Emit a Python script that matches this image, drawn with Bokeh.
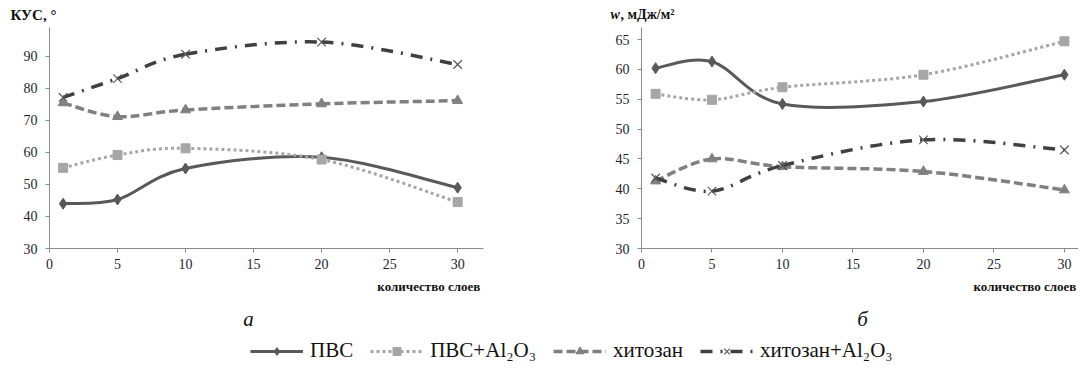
import numpy as np
from bokeh.plotting import figure
from bokeh.models import Range1d, FixedTicker, Label, Legend, LegendItem, ColumnDataSource
from bokeh.layouts import column, row
from bokeh.embed import file_html
from bokeh.resources import INLINE

# ---- data ----
layers = [1, 5, 10, 20, 30]
kus_pvs = [44.0, 45.3, 55.0, 58.5, 49.0]
kus_pvs_al = [55.2, 59.2, 61.3, 57.8, 44.5]
kus_chit = [75.5, 71.2, 73.3, 75.2, 76.2]
kus_chit_al = [77.2, 83.1, 90.7, 94.5, 87.5]
w_pvs = [60.2, 61.3, 54.2, 54.6, 59.1]
w_pvs_al = [55.9, 54.9, 57.0, 59.1, 64.7]
w_chit = [41.3, 45.0, 43.7, 42.9, 39.8]
w_chit_al = [41.8, 39.6, 43.9, 48.2, 46.5]
series_names = ["ПВС", "ПВС+Al₂O₃", "хитозан", "хитозан+Al₂O₃"]
x_ticks = [0, 5, 10, 15, 20, 25, 30]
kus_ticks = [30, 40, 50, 60, 70, 80, 90]
w_ticks = [30, 35, 40, 45, 50, 55, 60, 65]

FONT = "Liberation Serif"
styles = [
    dict(color="#595959", dash="solid", width=3, marker="diamond", msize=11, mcolor="#595959"),
    dict(color="#a6a6a6", dash="3 3", width=3, marker="square", msize=9, mcolor="#a6a6a6"),
    dict(color="#808080", dash="9 4", width=3.5, marker="triangle", msize=10, mcolor="#808080"),
    dict(color="#404040", dash="12 8 2 8", width=3.5, marker="x", msize=12, mcolor="#595959"),
]


def smooth_source(xs, ys):
    n = len(xs)
    d = dict(x0=[], y0=[], x1=[], y1=[], cx0=[], cy0=[], cx1=[], cy1=[])
    for i in range(n - 1):
        a = i - 1 if i > 0 else i
        b = i + 2 if i + 2 < n else i + 1
        d["x0"].append(xs[i]); d["y0"].append(ys[i])
        d["x1"].append(xs[i + 1]); d["y1"].append(ys[i + 1])
        d["cx0"].append(xs[i] + (xs[i + 1] - xs[a]) / 6)
        d["cy0"].append(ys[i] + (ys[i + 1] - ys[a]) / 6)
        d["cx1"].append(xs[i + 1] - (xs[b] - xs[i]) / 6)
        d["cy1"].append(ys[i + 1] - (ys[b] - ys[i]) / 6)
    return ColumnDataSource(d)


def strip(height, y0, y1):
    s = figure(width=1078, height=height, x_range=Range1d(0, 1078), y_range=Range1d(y1, y0),
               output_backend="svg", toolbar_location=None, title=None,
               min_border_left=0, min_border_right=0, min_border_top=0, min_border_bottom=0)
    s.axis.visible = False
    s.grid.visible = False
    s.outline_line_color = None
    return s


def make_fig(width, height, xr, yr, yticks, borders, series):
    p = figure(width=width, height=height, x_range=Range1d(*xr), y_range=Range1d(*yr),
               output_backend="svg", toolbar_location=None, title=None,
               min_border_left=borders[0], min_border_right=borders[1],
               min_border_top=borders[2], min_border_bottom=borders[3])
    p.outline_line_color = None
    p.xgrid.grid_line_color = None
    p.ygrid.grid_line_color = None
    for ax, ticks, standoff in ((p.xaxis[0], x_ticks, 6), (p.yaxis[0], yticks, 8)):
        ax.ticker = FixedTicker(ticks=ticks)
        ax.axis_line_color = "#8a8a8a"
        ax.major_tick_line_color = "#8a8a8a"
        ax.major_tick_out = 4
        ax.major_tick_in = 0
        ax.minor_tick_line_color = None
        ax.major_label_text_font = FONT
        ax.major_label_text_font_size = "14px"
        ax.major_label_text_color = "#1e1e2e"
        ax.major_label_standoff = standoff
    for ys, st in zip(series, styles):
        src = smooth_source(layers, ys)
        p.bezier(x0="x0", y0="y0", x1="x1", y1="y1", cx0="cx0", cy0="cy0", cx1="cx1", cy1="cy1",
                 source=src, line_color=st["color"], line_width=st["width"], line_dash=st["dash"])
        if st["marker"] == "x":
            p.scatter(layers, ys, marker="x", size=st["msize"], line_color=st["mcolor"], line_width=1.2)
        else:
            p.scatter(layers, ys, marker=st["marker"], size=st["msize"], fill_color=st["mcolor"],
                      line_color=st["mcolor"])
    return p


# top strip with the axis titles (page pixel coordinates)
p0 = strip(22, 0, 22)
p0.add_layout(Label(x=10, y=14, text="КУС, °", text_font=FONT, text_font_size="15px",
                    text_font_style="bold", text_baseline="middle", text_color="#111111"))
p0.add_layout(Label(x=610, y=14, text="w", text_font=FONT, text_font_size="14px",
                    text_font_style="bold italic", text_baseline="middle", text_color="#111111"))
p0.add_layout(Label(x=620, y=14, text=", мДж/м²", text_font=FONT, text_font_size="14px",
                    text_font_style="bold", text_baseline="middle", text_color="#111111"))

# left chart (КУС): frame x 49..483, y 27..248
p1 = make_fig(590, 256, (0, 31.9), (30, 99.06), kus_ticks, (49, 107, 5, 30),
              [kus_pvs, kus_pvs_al, kus_chit, kus_chit_al])
# right chart (w): frame x 641..1078, y 27..248
p2 = make_fig(488, 256, (0, 31.0), (30, 67.01), w_ticks, (51, 0, 5, 30),
              [w_pvs, w_pvs_al, w_chit, w_chit_al])

# bottom strip: axis labels, panel letters and legend (page pixel coordinates)
p3 = strip(85, 278, 363)
p3.add_layout(Label(x=483, y=286, text="количество  слоев", text_font=FONT, text_font_size="13px",
                    text_font_style="bold", text_baseline="middle", text_align="right", text_color="#111111"))
p3.add_layout(Label(x=973, y=286, text="количество   слоев", text_font=FONT, text_font_size="13px",
                    text_font_style="bold", text_baseline="middle", text_align="left", text_color="#111111"))
p3.add_layout(Label(x=248, y=318, text="а", text_font=FONT, text_font_size="21px",
                    text_font_style="italic", text_baseline="middle", text_align="center", text_color="#111111"))
p3.add_layout(Label(x=862, y=318, text="б", text_font=FONT, text_font_size="21px",
                    text_font_style="italic", text_baseline="middle", text_align="center", text_color="#111111"))

items = []
nan = [float("nan")]
for name, st in zip(series_names, styles):
    src = ColumnDataSource(dict(x=nan, y=nan))
    lr = p3.line("x", "y", source=src, line_color=st["color"], line_width=st["width"],
                 line_dash=st["dash"])
    if st["marker"] == "x":
        sr = p3.scatter("x", "y", source=src, marker="x", size=st["msize"], line_color=st["mcolor"],
                        line_width=1.2)
    else:
        sr = p3.scatter("x", "y", source=src, marker=st["marker"], size=st["msize"],
                        fill_color=st["mcolor"], line_color=st["mcolor"])
    items.append(LegendItem(label=name, renderers=[lr, sr]))
legend = Legend(items=items, orientation="horizontal", location=(250, 0),
                glyph_width=53, glyph_height=20, label_standoff=7, spacing=17,
                padding=0, margin=0, border_line_color=None, background_fill_alpha=0,
                label_text_font=FONT, label_text_font_size="21px", label_text_color="#111111")
p3.add_layout(legend)

layout = column(p0, row(p1, p2), p3)
open("out.html", "w").write(file_html(layout, INLINE))
